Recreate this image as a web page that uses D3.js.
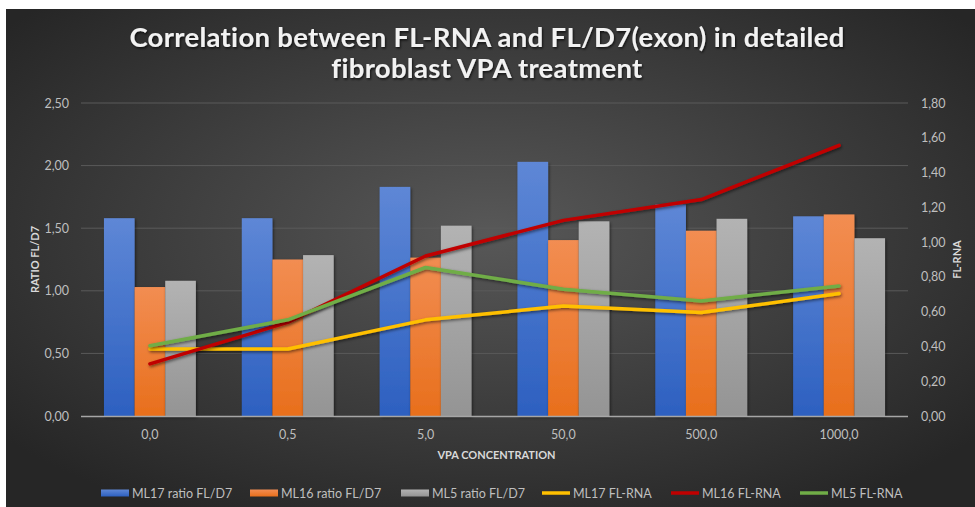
<!DOCTYPE html>
<html><head><meta charset="utf-8">
<script src="https://cdn.jsdelivr.net/npm/d3@7"></script>
<style>html,body{margin:0;padding:0;background:#fff;}svg{display:block;}</style>
</head><body>
<svg id="chart" width="975" height="507"></svg>
<script>
const categories = ["0,0","0,5","5,0","50,0","500,0","1000,0"];
const ml17Ratio = [1.58,1.58,1.83,2.03,1.69,1.595];
const ml16Ratio = [1.03,1.25,1.265,1.405,1.48,1.61];
const ml5Ratio  = [1.08,1.285,1.52,1.555,1.575,1.42];
const ml17Rna = [0.385,0.385,0.553,0.632,0.595,0.704];
const ml16Rna = [0.30,0.538,0.92,1.125,1.245,1.556];
const ml5Rna  = [0.404,0.553,0.854,0.729,0.662,0.748];
const leftTicks = [0,0.5,1,1.5,2,2.5];
const rightTicks = [0,0.2,0.4,0.6,0.8,1.0,1.2,1.4,1.6,1.8];

const barSeries = [
  {name:"ML17 ratio FL/D7", values:ml17Ratio, top:"#5e87d6", bot:"#2d60c0", id:"gB"},
  {name:"ML16 ratio FL/D7", values:ml16Ratio, top:"#f28d52", bot:"#e86f1c", id:"gO"},
  {name:"ML5 ratio FL/D7",  values:ml5Ratio,  top:"#b3b3b3", bot:"#949494", id:"gG"}
];
const lineSeries = [
  {name:"ML17 FL-RNA", values:ml17Rna, color:"#ffc000"},
  {name:"ML16 FL-RNA", values:ml16Rna, color:"#c00000"},
  {name:"ML5 FL-RNA",  values:ml5Rna,  color:"#70ad47"}
];

const svg = d3.select("#chart");
const W = 975, H = 507;
const font = "Lato, 'Open Sans', sans-serif";
const defs = svg.append("defs");
const bg = defs.append("radialGradient").attr("id","bg").attr("cx","50%").attr("cy","45%").attr("r","65%");
bg.append("stop").attr("offset","0%").attr("stop-color","#585858");
bg.append("stop").attr("offset","100%").attr("stop-color","#262626");
barSeries.forEach(s=>{
  const g = defs.append("linearGradient").attr("id",s.id).attr("x1",0).attr("y1",0).attr("x2",0).attr("y2",1);
  g.append("stop").attr("offset","0%").attr("stop-color",s.top);
  g.append("stop").attr("offset","100%").attr("stop-color",s.bot);
});
const sh = defs.append("filter").attr("id","sh").attr("x","-20%").attr("y","-20%").attr("width","140%").attr("height","140%");
sh.append("feDropShadow").attr("dx",1).attr("dy",1.5).attr("stdDeviation",1.5).attr("flood-color","#000").attr("flood-opacity",0.55);

svg.append("rect").attr("x",6).attr("y",9).attr("width",W-6).attr("height",H-9).attr("fill","url(#bg)");

const m = {l:81, r:908, t:103, b:416};
const x0 = d3.scaleBand().domain(categories).range([m.l,m.r]).paddingInner(1/3).paddingOuter(1/6);
const x1 = d3.scaleBand().domain([0,1,2]).range([0,x0.bandwidth()]);
const yL = d3.scaleLinear().domain([0,2.5]).range([m.b,m.t]);
const yR = d3.scaleLinear().domain([0,1.8]).range([m.b,m.t]);

// gridlines
svg.append("g").selectAll("line").data(leftTicks.slice(1)).join("line")
  .attr("x1",m.l).attr("x2",m.r).attr("y1",d=>yL(d)).attr("y2",d=>yL(d))
  .attr("stroke","#5a5a5a").attr("stroke-width",1);

// bars
barSeries.forEach((s,i)=>{
  svg.append("g").attr("filter","url(#sh)").selectAll("rect").data(s.values).join("rect")
    .attr("x",(d,j)=>x0(categories[j])+x1(i))
    .attr("width",x1.bandwidth())
    .attr("y",d=>yL(d)).attr("height",d=>yL(0)-yL(d))
    .attr("fill",`url(#${s.id})`);
});

// baseline
svg.append("line").attr("x1",m.l).attr("x2",m.r).attr("y1",m.b+0.5).attr("y2",m.b+0.5)
  .attr("stroke","#a6a6a6").attr("stroke-width",1.5);

// lines
const cx = c => x0(c)+x0.bandwidth()/2;
lineSeries.forEach(s=>{
  const line = d3.line().x((d,j)=>cx(categories[j])).y(d=>yR(d));
  svg.append("path").datum(s.values).attr("d",line).attr("fill","none")
    .attr("stroke",s.color).attr("stroke-width",3.5).attr("stroke-linejoin","round").attr("stroke-linecap","round")
    .attr("filter","url(#sh)");
});

// axes
const fmt2 = d3.format(".2f");
const comma = v => fmt2(v).replace(".",",");
const axL = d3.axisLeft(yL).tickValues(leftTicks).tickFormat(comma).tickSize(0).tickPadding(12);
const gL = svg.append("g").attr("transform",`translate(${m.l},0)`).call(axL);
const axR = d3.axisRight(yR).tickValues(rightTicks).tickFormat(comma).tickSize(0).tickPadding(13);
const gR = svg.append("g").attr("transform",`translate(${m.r},0)`).call(axR);
const axB = d3.axisBottom(x0).tickSize(0).tickPadding(14);
const gB = svg.append("g").attr("transform",`translate(0,${m.b})`).call(axB);
[gL,gR,gB].forEach(g=>{
  g.select(".domain").remove();
  g.selectAll("text").attr("fill","#bfbfbf").style("font-family",font).style("font-size","12.5px");
});

// axis titles
svg.append("text").attr("transform",`translate(39,${(m.t+m.b)/2}) rotate(-90)`)
  .attr("text-anchor","middle").attr("fill","#d9d9d9").style("font-family",font)
  .style("font-weight","bold").style("font-size","11px").text("RATIO FL/D7");
svg.append("text").attr("transform",`translate(961,${(m.t+m.b)/2}) rotate(-90)`)
  .attr("text-anchor","middle").attr("fill","#d9d9d9").style("font-family",font)
  .style("font-weight","bold").style("font-size","11px").text("FL-RNA");
svg.append("text").attr("x",(m.l+m.r)/2+2).attr("y",459)
  .attr("text-anchor","middle").attr("fill","#d9d9d9").style("font-family",font)
  .style("font-weight","bold").style("font-size","11px").text("VPA CONCENTRATION");

// title
const tshadow = defs.append("filter").attr("id","tsh");
tshadow.append("feDropShadow").attr("dx",1).attr("dy",1.5).attr("stdDeviation",1.2).attr("flood-color","#000").attr("flood-opacity",0.7);
const title = svg.append("text").attr("text-anchor","middle").attr("fill","#f2f2f2")
  .style("font-family",font).style("font-weight","bold").style("font-size","27.5px")
  .style("letter-spacing","0.3px")
  .attr("filter","url(#tsh)");
title.append("tspan").attr("x",487).attr("y",47).text("Correlation between FL-RNA and FL/D7(exon) in detailed");
title.append("tspan").attr("x",487).attr("y",78).text("fibroblast VPA treatment");

// legend
const legendItems = [
  ...barSeries.map(s=>({name:s.name, type:"bar", fill:`url(#${s.id})`})),
  ...lineSeries.map(s=>({name:s.name, type:"line", color:s.color}))
];
const legendX = [101,250,401,542,671,800];
const lg = svg.append("g");
legendItems.forEach((d,i)=>{
  const g = lg.append("g").attr("transform",`translate(${legendX[i]},493)`);
  if(d.type==="bar") g.append("rect").attr("x",0).attr("y",-3.5).attr("width",28).attr("height",7).attr("fill",d.fill);
  else g.append("line").attr("x1",0).attr("x2",28).attr("y1",0).attr("y2",0).attr("stroke",d.color).attr("stroke-width",3.5);
  g.append("text").attr("x",31).attr("y",4.5).attr("fill","#bfbfbf").style("font-family",font).style("font-size","12.5px").text(d.name);
});
</script>
</body></html>
